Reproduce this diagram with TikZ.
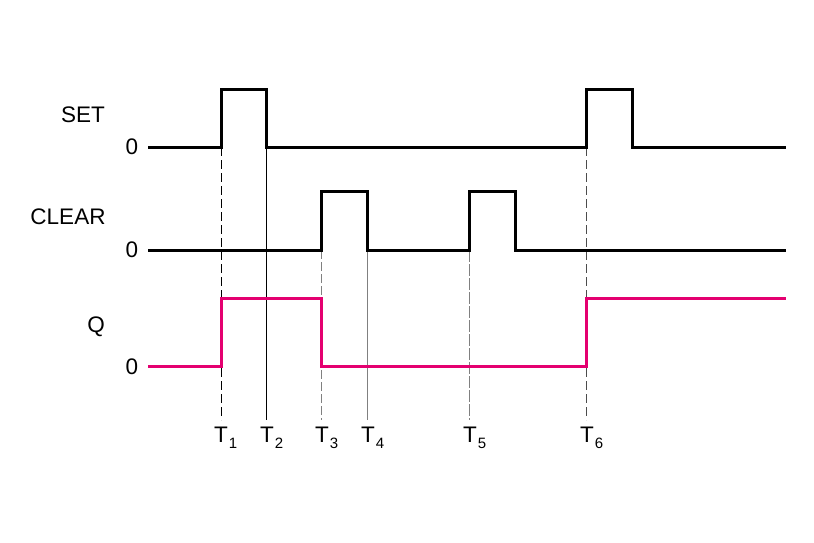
\documentclass[tikz,border=0pt]{standalone}
\usepackage{fontspec}
\setmainfont{Liberation Sans}
\definecolor{qpink}{RGB}{228,0,112}
\newcommand{\Tsub}[1]{T\kern1pt\raisebox{-6pt}{\fontsize{15}{15}\selectfont #1}}
\begin{document}
\begin{tikzpicture}[x=1pt,y=-1pt,
  sig/.style={line width=3pt,black,line join=miter},
  qsig/.style={line width=3pt,qpink,line join=miter},
  guide/.style={line width=0.8pt},
  lbl/.style={font=\fontsize{22.5}{25}\selectfont,inner sep=0pt},
  tl/.style={font=\fontsize{22.5}{25}\selectfont,inner sep=0pt,anchor=north west}]
\useasboundingbox (0,0) rectangle (814,543);
% labels
\node[lbl] (lset) at (83,115) {SET};
\node[lbl] (lset0) at (132,147) {0};
\node[lbl] (lclr) at (68,217) {CLEAR};
\node[lbl] (lclr0) at (132,250) {0};
\node[lbl] (lq) at (96,327) {Q};
\node[lbl] (lq0) at (132,367) {0};
% guide lines
\coordinate (g1a) at (221,147); \coordinate (g1b) at (221,420);
\coordinate (g2a) at (266,147); \coordinate (g2b) at (266,420);
\coordinate (g3a) at (321,250); \coordinate (g3b) at (321,420);
\coordinate (g4a) at (367,250); \coordinate (g4b) at (367,420);
\coordinate (g5a) at (469,250); \coordinate (g5b) at (469,420);
\coordinate (g6a) at (586,147); \coordinate (g6b) at (586,420);
\draw[guide,black,dash pattern=on 9pt off 4pt] (g1a) -- (g1b);
\draw[guide,black] (g2a) -- (g2b);
\draw[guide,gray,dash pattern=on 9pt off 3pt] (g3a) -- (g3b);
\draw[guide,gray] (g4a) -- (g4b);
\draw[guide,gray,dash pattern=on 12pt off 2pt] (g5a) -- (g5b);
\draw[guide,black!70,dash pattern=on 9pt off 4pt] (g6a) -- (g6b);
% T labels
\node[tl] (t1) at (214,427) {\Tsub{1}};
\node[tl] (t2) at (260,427) {\Tsub{2}};
\node[tl] (t3) at (315,427) {\Tsub{3}};
\node[tl] (t4) at (361,427) {\Tsub{4}};
\node[tl] (t5) at (463,427) {\Tsub{5}};
\node[tl] (t6) at (580,427) {\Tsub{6}};
% signals
\draw[sig] (148,147) -- (221,147) -- (221,89) -- (266,89) -- (266,147) -- (586,147) -- (586,89) -- (632,89) -- (632,147) -- (786,147);
\draw[sig] (148,250) -- (321,250) -- (321,191) -- (367,191) -- (367,250) -- (469,250) -- (469,191) -- (515,191) -- (515,250) -- (786,250);
\draw[qsig] (148,366) -- (221,366) -- (221,298) -- (321,298) -- (321,366) -- (586,366) -- (586,298) -- (786,298);
\end{tikzpicture}
\end{document}
